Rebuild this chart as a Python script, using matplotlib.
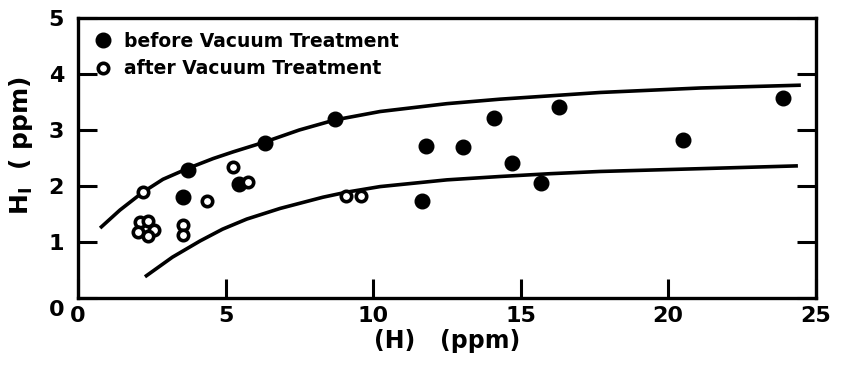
import matplotlib
matplotlib.use("Agg")
import matplotlib.pyplot as plt

# points
before_x = [3.55, 3.73, 5.46, 6.34, 8.71, 11.65, 11.8, 13.05, 14.1, 14.7, 15.7, 16.3, 20.5, 23.9]
before_y = [1.80, 2.29, 2.03, 2.77, 3.20, 1.73, 2.71, 2.70, 3.21, 2.41, 2.05, 3.41, 2.82, 3.57]

after_x = [2.2, 2.1, 2.38, 2.58, 2.36, 2.05, 3.56, 3.56, 4.37, 5.26, 5.77, 9.1, 9.6]
after_y = [1.89, 1.36, 1.375, 1.21, 1.11, 1.18, 1.30, 1.12, 1.73, 2.34, 2.07, 1.82, 1.82]

# upper / lower envelope curves
upper_x = [0.75, 1.42, 2.2, 2.88, 3.75, 4.58, 5.26, 6.3, 7.5, 8.71, 10.24, 12.5, 14.3, 16.0, 17.7, 21.1, 24.5]
upper_y = [1.25, 1.57, 1.89, 2.12, 2.32, 2.49, 2.61, 2.78, 3.00, 3.18, 3.33, 3.47, 3.55, 3.61, 3.67, 3.75, 3.80]

lower_x = [2.27, 3.2, 4.14, 4.9, 5.72, 6.85, 8.3, 9.1, 10.24, 12.5, 14.3, 16.0, 17.7, 21.1, 24.4]
lower_y = [0.38, 0.73, 1.02, 1.23, 1.41, 1.60, 1.80, 1.89, 1.99, 2.11, 2.17, 2.22, 2.26, 2.31, 2.36]

plt.rcParams['font.family'] = 'DejaVu Sans'
plt.rcParams['font.weight'] = 'bold'

fig = plt.figure(figsize=(8.43, 3.74), dpi=100)
ax = fig.add_axes([0.0925, 0.203, 0.875, 0.749])

ax.plot(upper_x, upper_y, '-', color='black', lw=2.6, solid_capstyle='butt', solid_joinstyle='round')
ax.plot(lower_x, lower_y, '-', color='black', lw=2.6, solid_capstyle='butt', solid_joinstyle='round')

ax.plot(before_x, before_y, 'o', color='black', markersize=10.5,
        label='before Vacuum Treatment')
ax.plot(after_x, after_y, 'o', mfc='white', mec='black', mew=2.6, markersize=7.5,
        label='after Vacuum Treatment')

ax.set_xlim(0, 25)
ax.set_ylim(0, 5)
ax.set_xticks([0, 5, 10, 15, 20, 25])
ax.set_yticks([0, 1, 2, 3, 4, 5])
ax.set_xticklabels(['0', '5', '10', '15', '20', '25'])
ax.set_yticklabels(['', '1', '2', '3', '4', '5'])
ax.tick_params(direction='in', length=14, width=2.2, labelsize=16,
               left=True, right=True, bottom=True, top=False)
ax.tick_params(axis='y', pad=10)
ax.tick_params(axis='x', pad=6)
for s in ['left', 'right', 'bottom', 'top']:
    ax.spines[s].set_linewidth(2.4)

# the y "0" sits a bit below the corner
ax.text(-0.018, -0.043, '0', transform=ax.transAxes, fontsize=16,
        ha='right', va='center', fontweight='bold')

ax.set_xlabel('(H)   (ppm)', fontsize=17, labelpad=2, fontweight='bold')
fig.text(0.025, 0.61, 'H$_\\mathbf{I}$  ( ppm)', rotation=90, fontsize=18,
         ha='center', va='center', fontweight='bold')

ax.legend(loc='upper left', frameon=False, fontsize=13.5, handletextpad=0.53,
          labelspacing=0.45, borderaxespad=0.75, handlelength=1.2,
          borderpad=0.0)

fig.savefig('out.png', dpi=100)
